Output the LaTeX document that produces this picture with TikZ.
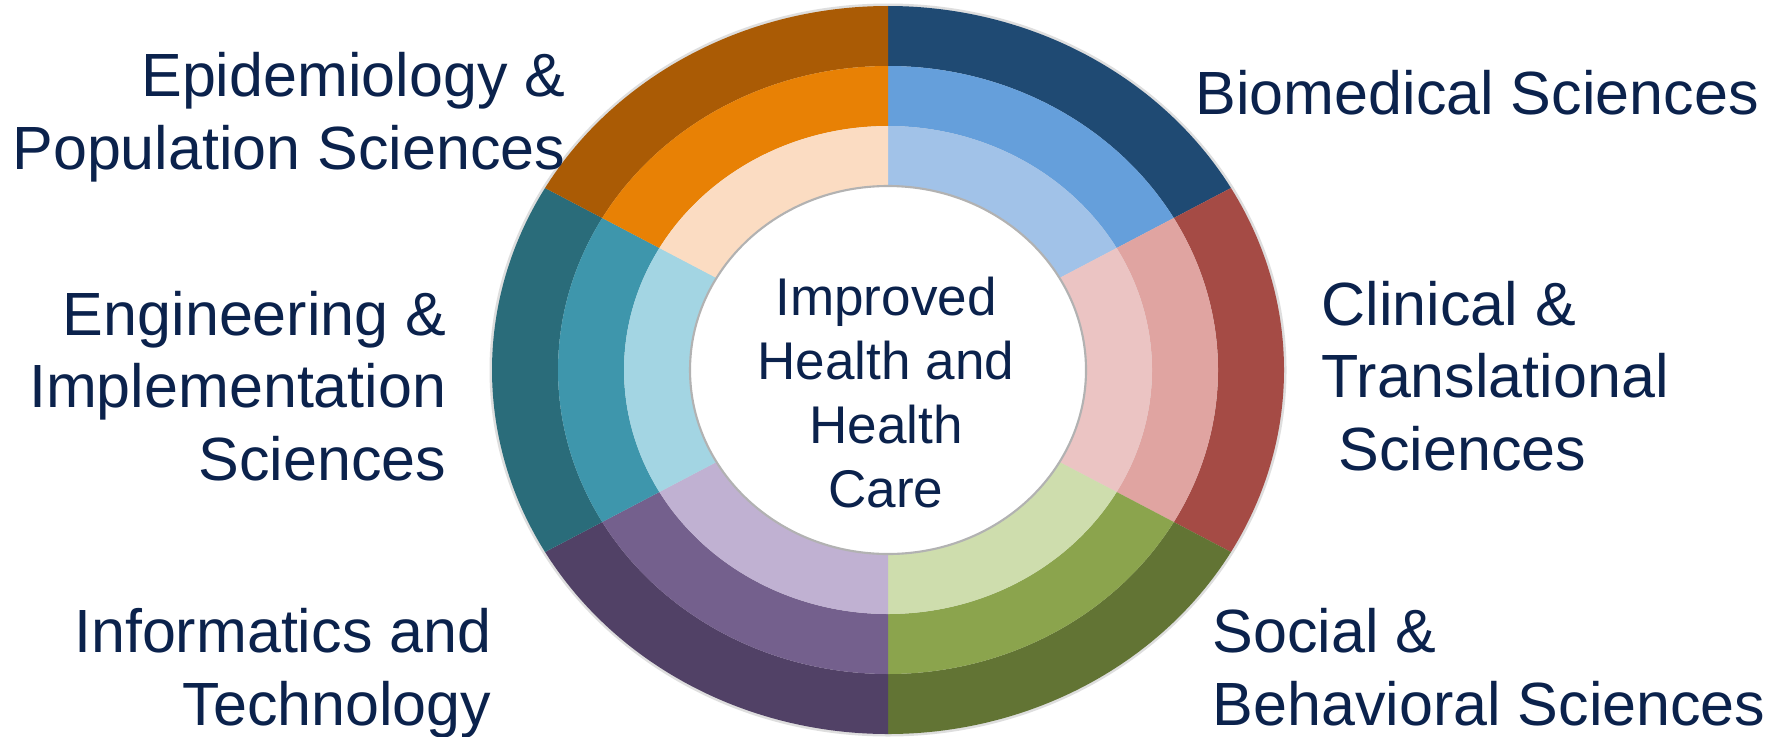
\documentclass[tikz,border=0pt]{standalone}
\usepackage{fontspec}
\setmainfont{Liberation Sans}
\definecolor{txt}{RGB}{11,34,76}
\definecolor{bioA}{HTML}{1F4A73}\definecolor{bioB}{HTML}{659FDB}\definecolor{bioC}{HTML}{A1C2E8}
\definecolor{cliA}{HTML}{A54B45}\definecolor{cliB}{HTML}{E0A4A1}\definecolor{cliC}{HTML}{EBC4C3}
\definecolor{socA}{HTML}{627434}\definecolor{socB}{HTML}{8BA44D}\definecolor{socC}{HTML}{CEDDAD}
\definecolor{infA}{HTML}{514166}\definecolor{infB}{HTML}{74608D}\definecolor{infC}{HTML}{C0B1D2}
\definecolor{engA}{HTML}{2A6C7A}\definecolor{engB}{HTML}{3E96AC}\definecolor{engC}{HTML}{A3D5E3}
\definecolor{epiA}{HTML}{AA5B05}\definecolor{epiB}{HTML}{E88105}\definecolor{epiC}{HTML}{FBDCC2}
\newcommand{\seg}[7]{% start, end, ao, bo, ai, bi, colour
  \fill[#7] (#1:#3cm and #4cm) arc[start angle=#1, end angle=#2, x radius=#3cm, y radius=#4cm]
    -- (#2:#5cm and #6cm) arc[start angle=#2, end angle=#1, x radius=#5cm, y radius=#6cm] -- cycle;}
\tikzset{
  lbl/.style={text=txt, font=\fontsize{17.36pt}{20.5pt}\selectfont, inner sep=0pt},
  ctr/.style={text=txt, font=\fontsize{15.1pt}{18.2pt}\selectfont, inner sep=0pt, align=center}
}
\begin{document}
\begin{tikzpicture}
\useasboundingbox (0,0) rectangle (17.85,-7.36);
\fill[white] (0,0) rectangle (17.85,-7.36);
\begin{scope}[shift={(8.88,-3.70)}]
  \fill[black!25, opacity=0.5] (0,0) ellipse [x radius=3.985cm, y radius=3.665cm];
  % outer ring
  \seg{30}{90}{3.96}{3.64}{3.30}{3.04}{bioA}
  \seg{-30}{30}{3.96}{3.64}{3.30}{3.04}{cliA}
  \seg{-90}{-30}{3.96}{3.64}{3.30}{3.04}{socA}
  \seg{-150}{-90}{3.96}{3.64}{3.30}{3.04}{infA}
  \seg{150}{210}{3.96}{3.64}{3.30}{3.04}{engA}
  \seg{90}{150}{3.96}{3.64}{3.30}{3.04}{epiA}
  % middle ring
  \seg{30}{90}{3.30}{3.04}{2.64}{2.44}{bioB}
  \seg{-30}{30}{3.30}{3.04}{2.64}{2.44}{cliB}
  \seg{-90}{-30}{3.30}{3.04}{2.64}{2.44}{socB}
  \seg{-150}{-90}{3.30}{3.04}{2.64}{2.44}{infB}
  \seg{150}{210}{3.30}{3.04}{2.64}{2.44}{engB}
  \seg{90}{150}{3.30}{3.04}{2.64}{2.44}{epiB}
  % inner ring
  \seg{30}{90}{2.64}{2.44}{1.98}{1.84}{bioC}
  \seg{-30}{30}{2.64}{2.44}{1.98}{1.84}{cliC}
  \seg{-90}{-30}{2.64}{2.44}{1.98}{1.84}{socC}
  \seg{-150}{-90}{2.64}{2.44}{1.98}{1.84}{infC}
  \seg{150}{210}{2.64}{2.44}{1.98}{1.84}{engC}
  \seg{90}{150}{2.64}{2.44}{1.98}{1.84}{epiC}
  \fill[white, draw=black!30, line width=0.6pt] (0,0) ellipse [x radius=1.98cm, y radius=1.84cm];
\end{scope}
\node[ctr, anchor=base] (center) at (8.86,-5.07) {Improved\\Health and\\Health\\Care};
\node[lbl, anchor=base east, align=right] (epi) at (5.66,-1.69) {Epidemiology \&\\Population Sciences};
\node[lbl, anchor=base east, align=right] (eng) at (4.47,-4.80) {Engineering \&\\Implementation\\Sciences};
\node[lbl, anchor=base east, align=right] (inf) at (4.92,-7.25) {Informatics and\\Technology};
\node[lbl, anchor=base west, align=left] (bio) at (11.95,-1.14) {Biomedical Sciences};
\node[lbl, anchor=base west, align=left] (cli) at (13.21,-4.70) {Clinical \&\\Translational\\\hspace*{0.17cm}Sciences};
\node[lbl, anchor=base west, align=left] (soc) at (12.12,-7.25) {Social \&\\Behavioral Sciences};
\end{tikzpicture}
\end{document}
